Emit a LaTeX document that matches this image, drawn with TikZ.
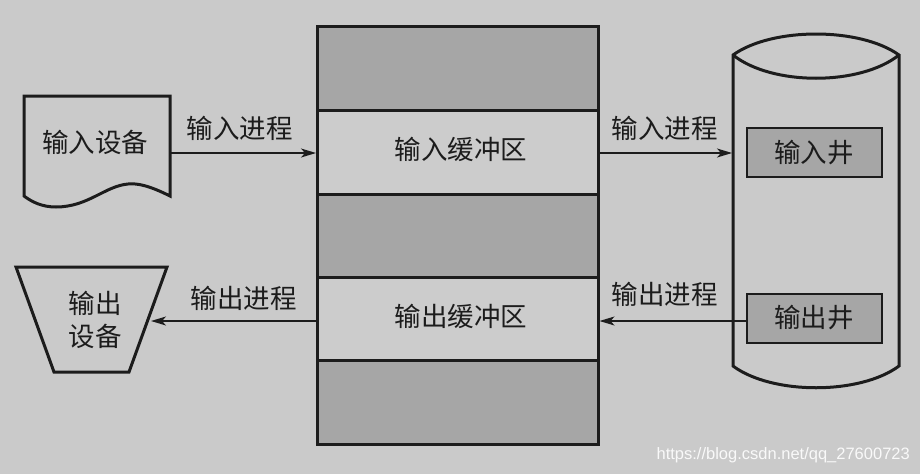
\documentclass[tikz,border=0pt]{standalone}
\usepackage{fontspec}
\setmainfont{Liberation Sans}
\newfontfamily\cjk{Noto Sans CJK SC}
\usetikzlibrary{arrows.meta}
\definecolor{bgc}{HTML}{CACACA}
\definecolor{darkc}{HTML}{A6A6A6}
\definecolor{inkc}{HTML}{1C1C1C}
\tikzset{
  outl/.style={draw=inkc,line width=3pt,line join=miter},
  ghost/.style={inner sep=0pt,outer sep=0pt,draw=none},
  bufgray/.style={outl,fill=darkc,minimum width=281pt,minimum height=84pt,inner sep=0pt,outer sep=0pt},
  bufplain/.style={outl,fill=bgc!96!white,minimum width=281pt,minimum height=84pt,inner sep=0pt,outer sep=0pt},
  wellbox/.style={outl,line width=2.6pt,fill=darkc,minimum width=135pt,minimum height=49pt,inner sep=0pt,outer sep=0pt},
  lab/.style={font=\cjk\fontsize{26.5}{30}\selectfont,text=inkc,inner sep=0pt},
  conn/.style={draw=inkc,line width=1.3pt,-{Stealth[length=15pt,width=9pt,inset=4pt]}}
}
\begin{document}
\begin{tikzpicture}[x=1pt,y=-1pt]
\useasboundingbox (0,0) rectangle (920,474);
\fill[bgc] (0,0) rectangle (920,474);
% central stack
\node[bufgray]  (s1) at (457.5,68) {};
\node[bufplain] (s2) at (457.5,152) {};
\node[bufgray]  (s3) at (457.5,236) {};
\node[bufplain] (s4) at (457.5,319.5) {};
\node[bufgray]  (s5) at (457.5,402.5) {};
\node[lab] (s2t) at (461,149.5) {输入缓冲区};
\node[lab] (s4t) at (461,316.5) {输出缓冲区};
% input device
\draw[outl] (24,196) -- (24,96) -- (170,96) -- (170,196)
  .. controls (150,186) and (138,183) .. (128,184)
  .. controls (105,186) and (88,207) .. (56,207)
  .. controls (42,207) and (32,202) .. (24,196) -- cycle;
\node[ghost,minimum width=146pt,minimum height=110pt] (indev) at (97,153) {};
\node[lab] (indevt) at (95,142) {输入设备};
% output device
\draw[outl] (16,267) -- (167,267) -- (129,372) -- (54,372) -- cycle;
\node[ghost,minimum width=120pt,minimum height=100pt] (outdev) at (91,321) {};
\node[lab] (outdevt) at (95,336) {设备};
\node[lab] (outdevt2) at (95,303) {输出};
% disk
\draw[outl] (733,55) .. controls (772,27) and (860,27) .. (899,55)
  -- (899,366) .. controls (860,395) and (772,395) .. (733,366) -- cycle;
\draw[outl] (733,55) .. controls (772,86) and (860,86) .. (899,55);
\node[ghost,minimum width=166pt,minimum height=300pt] (disk) at (816,153) {};
\node[wellbox] (inw) at (814.5,152.5) {};
\node[wellbox] (outw) at (814.5,318.5) {};
\node[lab] (inwt) at (814,153) {输入井};
\node[lab] (outwt) at (814,318) {输出井};
% connectors
\coordinate (a1) at (indev.east);
\coordinate (a2) at (s2.west |- a1);
\draw[conn] (a1) -- ([xshift=-1pt]a2);
\coordinate (b1) at (s2.east |- a1);
\draw[conn] (b1) -- ([xshift=-1pt]disk.west);
\draw[conn] (outw.west |- 0,321) -- ([xshift=1.5pt]s4.east |- 0,321);
\draw[conn] (s4.west |- 0,321) -- (outdev.east);
% connector labels
\node[lab] (l1) at (239.5,128) {输入进程};
\node[lab] (l2) at (243.5,298) {输出进程};
\node[lab] (l3) at (664.5,128) {输入进程};
\node[lab] (l4) at (664.5,294) {输出进程};
% watermark
\node[font=\fontsize{16.5}{18}\selectfont,text=white!88!bgc,anchor=east,inner sep=0pt] (wm) at (910,455) {https://blog.csdn.net/qq\_27600723};
\end{tikzpicture}
\end{document}
